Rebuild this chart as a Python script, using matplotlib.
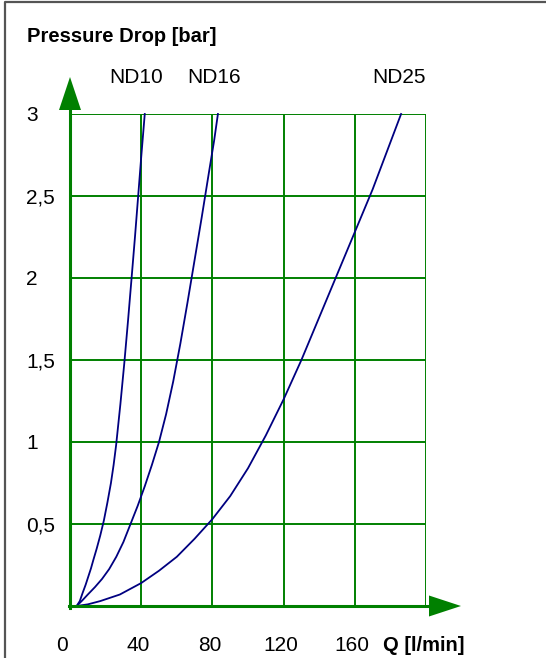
import matplotlib
matplotlib.use('Agg')
import matplotlib.pyplot as plt
from matplotlib.patches import Polygon
from matplotlib.lines import Line2D
from matplotlib.transforms import IdentityTransform, offset_copy

plt.rcParams['font.family'] = ['Liberation Sans', 'DejaVu Sans']

W, H, DPI = 546, 658, 100

# ---- data ----
q_nd10 = [3.75, 5.5, 7.1, 8.8, 10.3, 11.8, 13.1, 15, 17, 19, 21, 23, 24.5, 25.9,
          28.3, 30.5, 32.6, 34.6, 36.5, 38.3, 40.1, 42.0]
dp_nd10 = [0, 0.03, 0.08, 0.13, 0.18, 0.23, 0.28, 0.35, 0.43, 0.52, 0.63, 0.75, 0.86, 0.98,
           1.23, 1.48, 1.74, 2.0, 2.25, 2.5, 2.75, 3.0]

q_nd16 = [3.75, 7, 10, 14, 18, 22, 26, 30, 34, 38, 42, 46, 50, 54, 58, 62, 66, 70, 74,
          78, 81, 83.1]
dp_nd16 = [0, 0.035, 0.07, 0.115, 0.165, 0.225, 0.3, 0.39, 0.5, 0.61, 0.73, 0.86, 1.0,
           1.17, 1.37, 1.6, 1.85, 2.11, 2.37, 2.64, 2.84, 3.0]

q_nd25 = [3.75, 10, 17, 28, 40, 50, 60, 70, 80, 90, 100, 110, 120, 130, 140, 150, 160,
          170, 178, 186]
dp_nd25 = [0, 0.01, 0.03, 0.07, 0.14, 0.215, 0.3, 0.41, 0.53, 0.67, 0.84, 1.04, 1.26,
           1.5, 1.76, 2.02, 2.28, 2.54, 2.77, 3.0]

series_names = ['ND10', 'ND16', 'ND25']
label_q = [37, 81, 185]

x_ticks = [0, 40, 80, 120, 160]
x_tick_labels = ['0', '40', '80', '120', '160']
y_ticks = [0.5, 1, 1.5, 2, 2.5, 3]
y_tick_labels = ['0,5', '1', '1,5', '2', '2,5', '3']
x_grid = [40, 80, 120, 160, 200]
y_grid = [0.5, 1, 1.5, 2, 2.5, 3]

GREEN = '#008000'
NAVY = '#000080'

fig = plt.figure(figsize=(W / DPI, H / DPI), dpi=DPI)
fig.patch.set_facecolor('white')
ax = fig.add_axes([70 / W, (H - 606) / H, 356 / W, 492 / H])
ax.set_xlim(0, 200)
ax.set_ylim(0, 3)
ax.axis('off')

# grid
ax.vlines(x_grid, 0, 3, color=GREEN, lw=1.4, zorder=1)
ax.hlines(y_grid, 0, 200, color=GREEN, lw=1.4, zorder=1)

# curves
for q, dp in [(q_nd10, dp_nd10), (q_nd16, dp_nd16), (q_nd25, dp_nd25)]:
    ax.plot(q, dp, color=NAVY, lw=1.3, zorder=3, clip_on=False, solid_joinstyle='round')

# axis lines and arrows (display pixels)
fig.canvas.draw()
x0, y0 = ax.transData.transform((0, 0))
xr, yt = ax.transData.transform((200, 3))
ident = IdentityTransform()
fig.add_artist(Line2D([x0, x0], [y0 - 1.5, yt + 4], transform=ident, color=GREEN, lw=2.2, zorder=4))
fig.add_artist(Line2D([x0 - 1.5, xr + 3], [y0, y0], transform=ident, color=GREEN, lw=2.2, zorder=4))
fig.add_artist(Polygon([(x0 - 11, yt + 4), (x0 + 11, yt + 4), (x0, yt + 37)], closed=True,
                       transform=ident, facecolor=GREEN, edgecolor='none', zorder=4))
fig.add_artist(Polygon([(xr + 3, y0 + 10.5), (xr + 3, y0 - 10.5), (xr + 35, y0)], closed=True,
                       transform=ident, facecolor=GREEN, edgecolor='none', zorder=4))

FS = 15
# y tick labels
ytr = offset_copy(ax.get_yaxis_transform(), fig=fig, x=-44, y=-7, units='dots')
for v, s in zip(y_ticks, y_tick_labels):
    ax.text(0, v, s, transform=ytr, ha='left', va='baseline', fontsize=FS)

# x tick labels
xtr = offset_copy(ax.transData, fig=fig, x=-3, y=-45, units='dots')
x0tr = offset_copy(ax.transData, fig=fig, x=-8, y=-45, units='dots')
for v, s in zip(x_ticks, x_tick_labels):
    ax.text(v, 0, s, transform=(x0tr if v == 0 else xtr), ha='center', va='baseline', fontsize=FS)

# x axis title
qtr = offset_copy(ax.transAxes, fig=fig, x=-43, y=-45, units='dots')
ax.text(1.0, 0, 'Q [l/min]', transform=qtr, ha='left', va='baseline', fontsize=14.5, fontweight='bold')

# y axis title
fig.text(27 / W, 1 - 42 / H, 'Pressure Drop [bar]', ha='left', va='baseline', fontsize=14.5, fontweight='bold')

# series labels
ntr = offset_copy(ax.transData, fig=fig, y=31, units='dots')
for q, s in zip(label_q, series_names):
    ax.text(q, 3, s, transform=ntr, ha='center', va='baseline', fontsize=FS)

# frame border
fig.add_artist(Line2D([5, 5, W + 5], [-5, H - 2, H - 2], transform=ident, color='#555555', lw=1.6))

fig.savefig('out.png', dpi=DPI)
